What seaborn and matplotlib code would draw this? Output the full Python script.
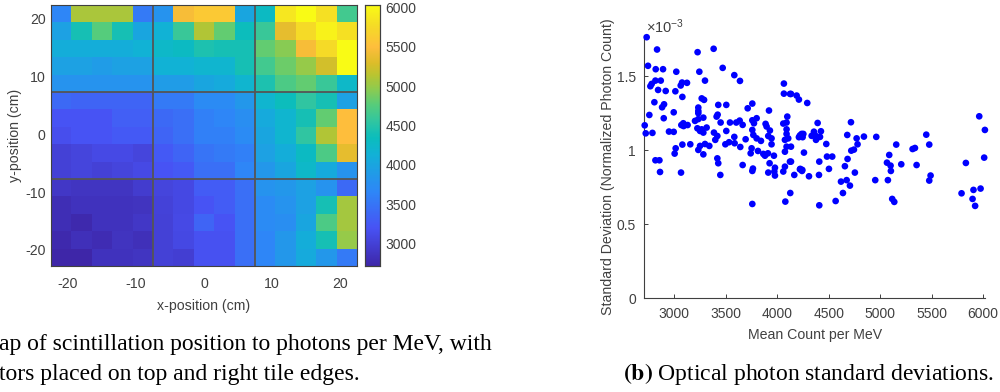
import matplotlib
matplotlib.use("Agg")
import matplotlib.pyplot as plt
from matplotlib.colors import LinearSegmentedColormap
import numpy as np
import pandas as pd
import seaborn as sns

x_positions = [-21, -18, -15, -12, -9, -6, -3, 0, 3, 6, 9, 12, 15, 18, 21]
y_positions = [21, 18, 15, 12, 9, 6, 3, 0, -3, -6, -9, -12, -15, -18, -21]
photons_per_mev = [
    [3650, 5080, 5080, 5080, 3550, 3800, 5450, 5600, 5600, 4000, 4300, 5850, 6030, 5800, 4650],
    [3950, 4400, 4750, 4400, 4000, 4150, 4600, 5100, 4800, 4350, 4600, 5350, 5750, 5950, 5800],
    [4100, 4100, 4100, 4100, 4150, 4250, 4300, 4450, 4400, 4400, 4800, 4950, 5450, 5750, 6050],
    [3950, 3950, 3900, 3950, 3950, 4150, 4150, 4200, 4200, 4400, 4650, 4850, 5000, 5250, 6050],
    [3800, 3800, 3800, 3800, 3800, 3900, 3900, 4000, 4050, 4200, 4450, 4700, 4800, 4600, 4250],
    [3400, 3350, 3350, 3350, 3350, 3550, 3550, 3700, 3700, 3850, 4200, 4350, 4550, 4400, 3950],
    [3200, 3200, 3200, 3300, 3300, 3400, 3450, 3600, 3650, 3750, 4050, 4200, 4400, 4800, 5500],
    [3150, 3200, 3200, 3250, 3250, 3350, 3450, 3600, 3600, 3700, 4000, 4200, 4550, 5100, 5500],
    [3000, 3050, 3100, 3100, 3050, 3250, 3350, 3500, 3550, 3600, 3950, 4100, 4300, 4700, 5350],
    [3000, 3050, 3000, 3050, 3100, 3200, 3250, 3450, 3450, 3650, 3850, 4000, 4250, 4050, 3800],
    [2900, 2880, 2880, 2880, 2950, 3050, 3080, 3280, 3280, 3450, 3800, 3850, 3950, 3800, 3400],
    [2800, 2850, 2850, 2850, 2860, 3020, 3080, 3200, 3280, 3450, 3700, 3800, 3950, 4400, 5050],
    [2800, 2750, 2850, 2850, 2900, 3000, 3100, 3350, 3200, 3450, 3700, 3750, 4000, 4700, 5050],
    [2750, 2820, 2780, 2870, 2830, 3000, 3080, 3180, 3180, 3450, 3650, 3850, 4100, 4400, 5000],
    [2720, 2720, 2850, 2850, 2880, 3000, 2980, 3170, 3170, 3450, 3650, 3850, 4050, 3850, 3550],
]

mean_count = [
    2731, 2832, 2744, 2819, 2890, 3019, 3226, 3382, 3243, 3470, 3583, 3638, 3298, 4065, 4065, 4125,
    2816, 2868, 2780, 2767, 2842, 2916, 3010, 3062, 3075, 3123, 3078, 2806, 2900, 2881, 2994, 2757,
    2897, 2712, 2722, 2787, 2948, 2994, 3078, 3155, 3013, 3003, 2816, 2855, 3068, 3087, 3129, 3090,
    3266, 3289, 3233, 3233, 3233, 3282, 3233, 3201, 3224, 3266, 3282, 3314, 3250, 3427, 3505, 3421,
    3411, 3450, 3541, 3505, 3385, 3418, 3398, 3583, 3496, 3532, 3586, 3641, 3298, 3340, 3250, 3233,
    3282, 3418, 3427, 3602, 3635, 3664, 3693, 3713, 3758, 3758, 3768, 3800, 3842, 3920, 3758, 3800,
    3774, 3887, 3897, 3929, 3913, 3945, 3945, 3751, 3742, 3813, 3865, 3881, 3910, 3968, 3664, 3764,
    3926, 3978, 4075, 4059, 4091, 4098, 4091, 4091, 4107, 4075, 4091, 4124, 4075,
    4134, 4189, 4211, 4292, 4393, 4717, 5964, 6019, 4425, 4357, 4335, 4367, 4416, 4377, 4390, 4237,
    4254, 4211, 4247, 4221, 4477, 4260, 4134, 4484, 4535, 4409, 4134, 4224, 4244, 4503, 4684, 4658,
    4681, 4772, 4843, 4963, 4781, 4746, 4720, 5157, 5089, 5067, 5102, 5206, 5355, 5449, 5478, 5316,
    5339, 5834, 6012,
    2861, 3065, 3447, 3758, 3758, 3913, 3972, 3978, 4059, 4166, 4079, 4127, 4221, 4241, 4309, 4406,
    4409, 4755, 4620, 4675, 4707, 4639, 4568, 4953, 5105, 5076, 5118, 5138, 5491, 5478, 5792, 5899,
    5908, 5977, 5924,
]
std_dev = [
    1.763, 1.680, 1.570, 1.547, 1.547, 1.530, 1.662, 1.685, 1.530, 1.556, 1.507, 1.468, 1.470, 1.450, 1.382, 1.380,
    1.470, 1.470, 1.448, 1.432, 1.407, 1.400, 1.398, 1.437, 1.457, 1.455, 1.360, 1.324, 1.310, 1.290, 1.256, 1.238,
    1.216, 1.168, 1.114, 1.117, 1.126, 1.124, 1.038, 1.040, 1.013, 0.977, 0.932, 0.932, 1.170, 1.182, 1.170, 1.163,
    1.350, 1.340, 1.288, 1.265, 1.250, 1.220, 1.210, 1.198, 1.148, 1.141, 1.119, 1.153, 1.130, 1.306, 1.306, 1.240,
    1.227, 1.187, 1.187, 1.130, 1.119, 1.096, 1.070, 1.090, 1.040, 1.054, 1.047, 1.022, 1.042, 1.029, 1.029, 1.002,
    0.972, 0.945, 0.912, 1.187, 1.200, 1.171, 1.074, 1.283, 1.315, 1.137, 1.103, 1.080, 1.063, 1.268, 1.202, 1.216,
    1.182, 1.178, 1.160, 1.133, 1.096, 1.080, 1.040, 1.013, 0.979, 0.995, 0.975, 0.963, 0.979, 0.963, 0.900, 0.876,
    0.912, 0.882, 0.990, 1.180, 1.187, 1.227, 1.141, 1.110, 1.080, 1.070, 1.024, 0.923, 0.889,
    1.380, 1.369, 1.342, 1.319, 1.184, 1.189, 1.229, 1.137, 1.128, 1.125, 1.097, 1.103, 1.090, 1.070, 1.085, 1.110,
    1.110, 1.088, 1.088, 1.100, 1.042, 0.984, 1.024, 0.957, 0.957, 0.923, 0.923, 0.874, 0.867, 0.874, 0.941, 0.892,
    1.103, 1.080, 1.092, 1.090, 1.040, 1.004, 0.997, 1.038, 0.968, 0.916, 0.896, 0.905, 0.900, 1.105, 1.038, 1.008,
    1.015, 0.914, 0.950,
    0.853, 0.849, 0.833, 0.860, 0.637, 0.849, 0.856, 0.829, 0.856, 0.833, 0.653, 0.711, 0.871, 0.860, 0.824, 0.833,
    0.628, 0.849, 0.788, 0.798, 0.761, 0.711, 0.657, 0.798, 0.860, 0.798, 0.671, 0.651, 0.829, 0.795, 0.709, 0.671,
    0.732, 0.741, 0.624,
]

heat_xticks = [-20, -10, 0, 10, 20]
heat_yticks = [20, 10, 0, -10, -20]
cbar_ticks = [3000, 3500, 4000, 4500, 5000, 5500, 6000]
scatter_xticks = [3000, 3500, 4000, 4500, 5000, 5500, 6000]
scatter_yticks = [0, 0.5, 1, 1.5]
scatter_ylabels = ["0", "0.5", "1", "1.5"]

sns.set_theme(style="white")
plt.rcParams["font.family"] = ["Liberation Sans", "DejaVu Sans"]
plt.rcParams["mathtext.default"] = "regular"

GREY = "#404040"
W, H = 1000, 392
parula = LinearSegmentedColormap.from_list("parula", [
    (0.0, (0.2422, 0.1504, 0.6603)), (9 / 63, (0.2810, 0.3228, 0.9579)),
    (18 / 63, (0.1786, 0.5289, 0.9682)), (27 / 63, (0.0689, 0.6948, 0.8394)),
    (31 / 63, (0.0433, 0.7411, 0.7394)), (35 / 63, (0.1938, 0.7758, 0.6251)),
    (39 / 63, (0.3406, 0.8008, 0.4789)), (43 / 63, (0.5616, 0.7942, 0.3045)),
    (46 / 63, (0.7242, 0.7698, 0.1910)), (49 / 63, (0.8634, 0.7406, 0.1596)),
    (53 / 63, (0.9956, 0.7434, 0.2371)), (58 / 63, (0.96, 0.86, 0.15)),
    (1.0, (0.9769, 0.9839, 0.0805))])

def box(l, t, r, b):
    return [l / W, 1 - b / H, (r - l) / W, (b - t) / H]

fig = plt.figure(figsize=(W / 100, H / 100), dpi=100)
ax1 = fig.add_axes(box(51, 5, 357, 266))
cax = fig.add_axes(box(364.5, 5, 380, 266))

frame = pd.DataFrame(photons_per_mev, index=y_positions, columns=x_positions)
sns.heatmap(frame, ax=ax1, cbar_ax=cax, cmap=parula, vmin=2715, vmax=6030, square=False,
            linewidths=0, rasterized=True)

def to_cell(v):
    return (v + 22.5) / 3
ax1.set_xticks([to_cell(v) for v in heat_xticks])
ax1.set_xticklabels([str(v) for v in heat_xticks], rotation=0)
ax1.set_yticks([to_cell(-v) for v in heat_yticks])
ax1.set_yticklabels([str(v) for v in heat_yticks], rotation=0)
ax1.set_xlabel("x-position (cm)", fontsize=10.2, color=GREY, labelpad=6)
ax1.set_ylabel("y-position (cm)", fontsize=10.2, color=GREY, labelpad=2)
ax1.tick_params(direction="in", length=3, width=0.7, color=GREY, labelcolor=GREY,
                labelsize=10.2, top=True, right=True, left=True, bottom=True, pad=8)
ax1.tick_params(axis="y", pad=4)
for s in ax1.spines.values():
    s.set_visible(True)
    s.set_color(GREY)
    s.set_linewidth(0.8)
for c in (to_cell(-7.5), to_cell(7.5)):
    ax1.axhline(c, color="#555555", lw=1.3)
    ax1.axvline(c, color="#555555", lw=1.3)

cax.set_yticks(cbar_ticks)
cax.set_yticklabels([str(v) for v in cbar_ticks])
cax.tick_params(direction="in", length=2.5, width=0.7, color=GREY, labelcolor=GREY,
                labelsize=10, right=True, left=False, pad=4)
for s in cax.spines.values():
    s.set_visible(True)
    s.set_color(GREY)
    s.set_linewidth(0.8)

ax2 = fig.add_axes(box(644.3, 35, 985, 298.3))
points = pd.DataFrame({"mean": mean_count, "std": std_dev})
sns.scatterplot(data=points, x="mean", y="std", ax=ax2, color="#0000ff", s=23,
                edgecolor="none", linewidth=0, clip_on=False, zorder=3)
ax2.set_xlim(2708, 6020)
ax2.set_ylim(0, 1.778)
ax2.set_xticks(scatter_xticks)
ax2.set_xticklabels([str(v) for v in scatter_xticks])
ax2.set_yticks(scatter_yticks)
ax2.set_yticklabels(scatter_ylabels)
ax2.tick_params(direction="in", length=3, width=0.7, color=GREY, labelcolor=GREY,
                labelsize=10, left=True, bottom=True, pad=6)
ax2.set_xlabel("Mean Count per MeV", fontsize=10.2, color=GREY, labelpad=5)
ax2.set_ylabel("Standard Deviation (Normalized Photon Count)", fontsize=10.2, color=GREY, labelpad=1)
sns.despine(ax=ax2)
for s in ("left", "bottom"):
    ax2.spines[s].set_color(GREY)
    ax2.spines[s].set_linewidth(0.8)
fig.text(646 / W, 1 - 33 / H, r"$\times$10$^{-3}$", fontsize=10.5, color=GREY, ha="left", va="baseline")

serif = ["Liberation Serif", "DejaVu Serif"]
fig.text(492 / W, 1 - 350 / H, "ap of scintillation position to photons per MeV, with",
         family=serif, fontsize=17, color="black", ha="right", va="baseline")
fig.text(360 / W, 1 - 380 / H, "tors placed on top and right tile edges.",
         family=serif, fontsize=17, color="black", ha="right", va="baseline")
fig.text(994 / W, 1 - 380 / H, r"$\mathbf{(b)}$ Optical photon standard deviations.",
         family=serif, fontsize=17, color="black", ha="right", va="baseline",
         math_fontfamily="stix")

fig.savefig("out.png", dpi=100)
